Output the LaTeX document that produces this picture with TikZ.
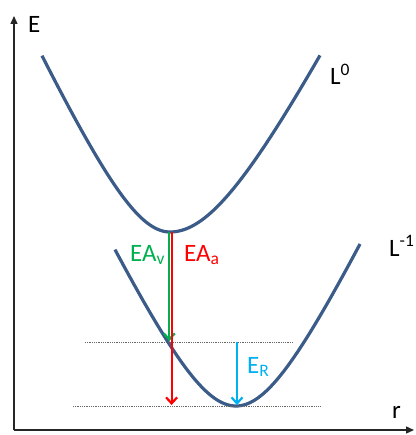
\documentclass[tikz,border=0pt]{standalone}
\usepackage{fontspec}
\setmainfont{Carlito}
\usetikzlibrary{arrows.meta}
\definecolor{curveBlue}{HTML}{3B5B88}
\definecolor{eaGreen}{HTML}{00B050}
\definecolor{eaRed}{HTML}{FF0000}
\definecolor{erCyan}{HTML}{00B0F0}

\begin{document}
\begin{tikzpicture}[x=1pt,y=-1pt,font=\fontsize{25}{30}\selectfont,
        curve/.style={curveBlue,line width=3.2pt},
        level/.style={black!60,densely dotted,line width=0.8pt},
        axis/.style={black!85,line width=1.4pt,-{Triangle[length=8pt,width=7pt]}},
        jump/.style={line width=2.2pt,-{Straight Barb[length=6pt,width=11pt]}},
        lbl/.style={inner sep=0pt,anchor=base west}]
        \useasboundingbox (0,0) rectangle (415,435);
        % axes
        \coordinate (origin) at (14,430);
        \coordinate (etip) at (14,16);
        \coordinate (rtip) at (414,430);
        \draw[axis] (origin)--(etip);
        \draw[axis] (origin)--(rtip);
        \node[lbl] (elab) at (28,33) {E};
        \node[lbl] (rlab) at (392,418) {r};
        % potential curves
        \draw[curve] plot[domain=-128:0,samples=60] ({170+\x},{232-130*(sqrt(1+(\x/60)^2)-1)})
              -- plot[domain=0:150,samples=60] ({170+\x},{232-157*(sqrt(1+(\x/80)^2)-1)});
        \draw[curve] plot[domain=-121:124,samples=100] ({236+\x},{406-125*(sqrt(1+(\x/60)^2)-1)});
        \node[lbl] (l0) at (330,85) {L\textsuperscript{0}};
        \node[lbl] (l1) at (389,256) {L\textsuperscript{-1}};
        % levels
        \coordinate (uleft) at (85,342);
        \coordinate (uright) at (293,342);
        \coordinate (lleft) at (73,406);
        \coordinate (lright) at (320,406);
        \draw[level] (uleft)--(uright);
        \draw[level] (lleft)--(lright);
        % transitions
        \coordinate (vtop) at (169.3,232);
        \coordinate (vend) at (169.3,341);
        \coordinate (atop) at (171.6,232);
        \coordinate (aend) at (171.6,405);
        \coordinate (rtop) at (237,342);
        \coordinate (rend) at (237,405);
        \draw[jump,eaGreen] (vtop)--(vend);
        \draw[jump,eaRed] (atop)--(aend);
        \draw[jump,erCyan] (rtop)--(rend);
        \node[lbl,text=eaGreen] (eav) at (130,261) {EA\textsubscript{v}};
        \node[lbl,text=eaRed] (eaa) at (184,261) {EA\textsubscript{a}};
        \node[lbl,text=erCyan] (er) at (247,373) {E\textsubscript{R}};
      \end{tikzpicture}
\end{document}
